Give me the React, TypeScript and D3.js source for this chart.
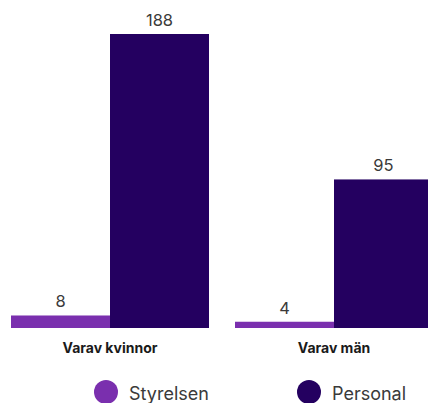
import React from "react";
import * as d3 from "d3";

const categories = ["Varav kvinnor", "Varav män"];
const seriesNames = ["Styrelsen", "Personal"];
const styrelsen = [8, 4];
const personal = [188, 95];
const colors = ["#7a2fae", "#240060"];

const W = 428;
const H = 403;
const FONT = "Inter, Roboto, 'Noto Sans', sans-serif";

export default function App() {
  const x0 = d3.scaleBand<string>().domain(categories).range([11, 433]).paddingInner(26 / 224).paddingOuter(0);
  const x1 = d3.scaleBand<string>().domain(seriesNames).range([0, x0.bandwidth()]).padding(0);
  const y = d3.scaleLinear().domain([0, 188]).range([328, 34]);
  const values = [styrelsen, personal];

  return (
    <svg width={W} height={H} style={{ position: "absolute", left: 0, top: 0, display: "block" }} fontFamily={FONT}>
      <rect width={W} height={H} fill="#fff" />
      {categories.map((c, ci) => (
        <g key={c} transform={`translate(${x0(c)},0)`}>
          {seriesNames.map((s, si) => {
            const v = values[si][ci];
            const bx = x1(s)!;
            const bw = x1.bandwidth();
            return (
              <g key={s}>
                <rect x={bx} y={y(v)} width={bw} height={y(0) - y(v)} fill={colors[si]} />
                <text x={bx + bw / 2} y={y(v) - 8} textAnchor="middle" fontSize={16.5} fill="#3a3a3a">
                  {v}
                </text>
              </g>
            );
          })}
          <text x={x0.bandwidth() / 2} y={353} textAnchor="middle" fontSize={14} fontWeight={700} fill="#1a1a1a">
            {c}
          </text>
        </g>
      ))}
      {seriesNames.map((s, si) => {
        const cx = [106, 309][si];
        return (
          <g key={s}>
            <circle cx={cx} cy={392} r={12} fill={colors[si]} />
            <text x={cx + 23} y={400} fontSize={18} fill="#3a3a3a">
              {s}
            </text>
          </g>
        );
      })}
    </svg>
  );
}
